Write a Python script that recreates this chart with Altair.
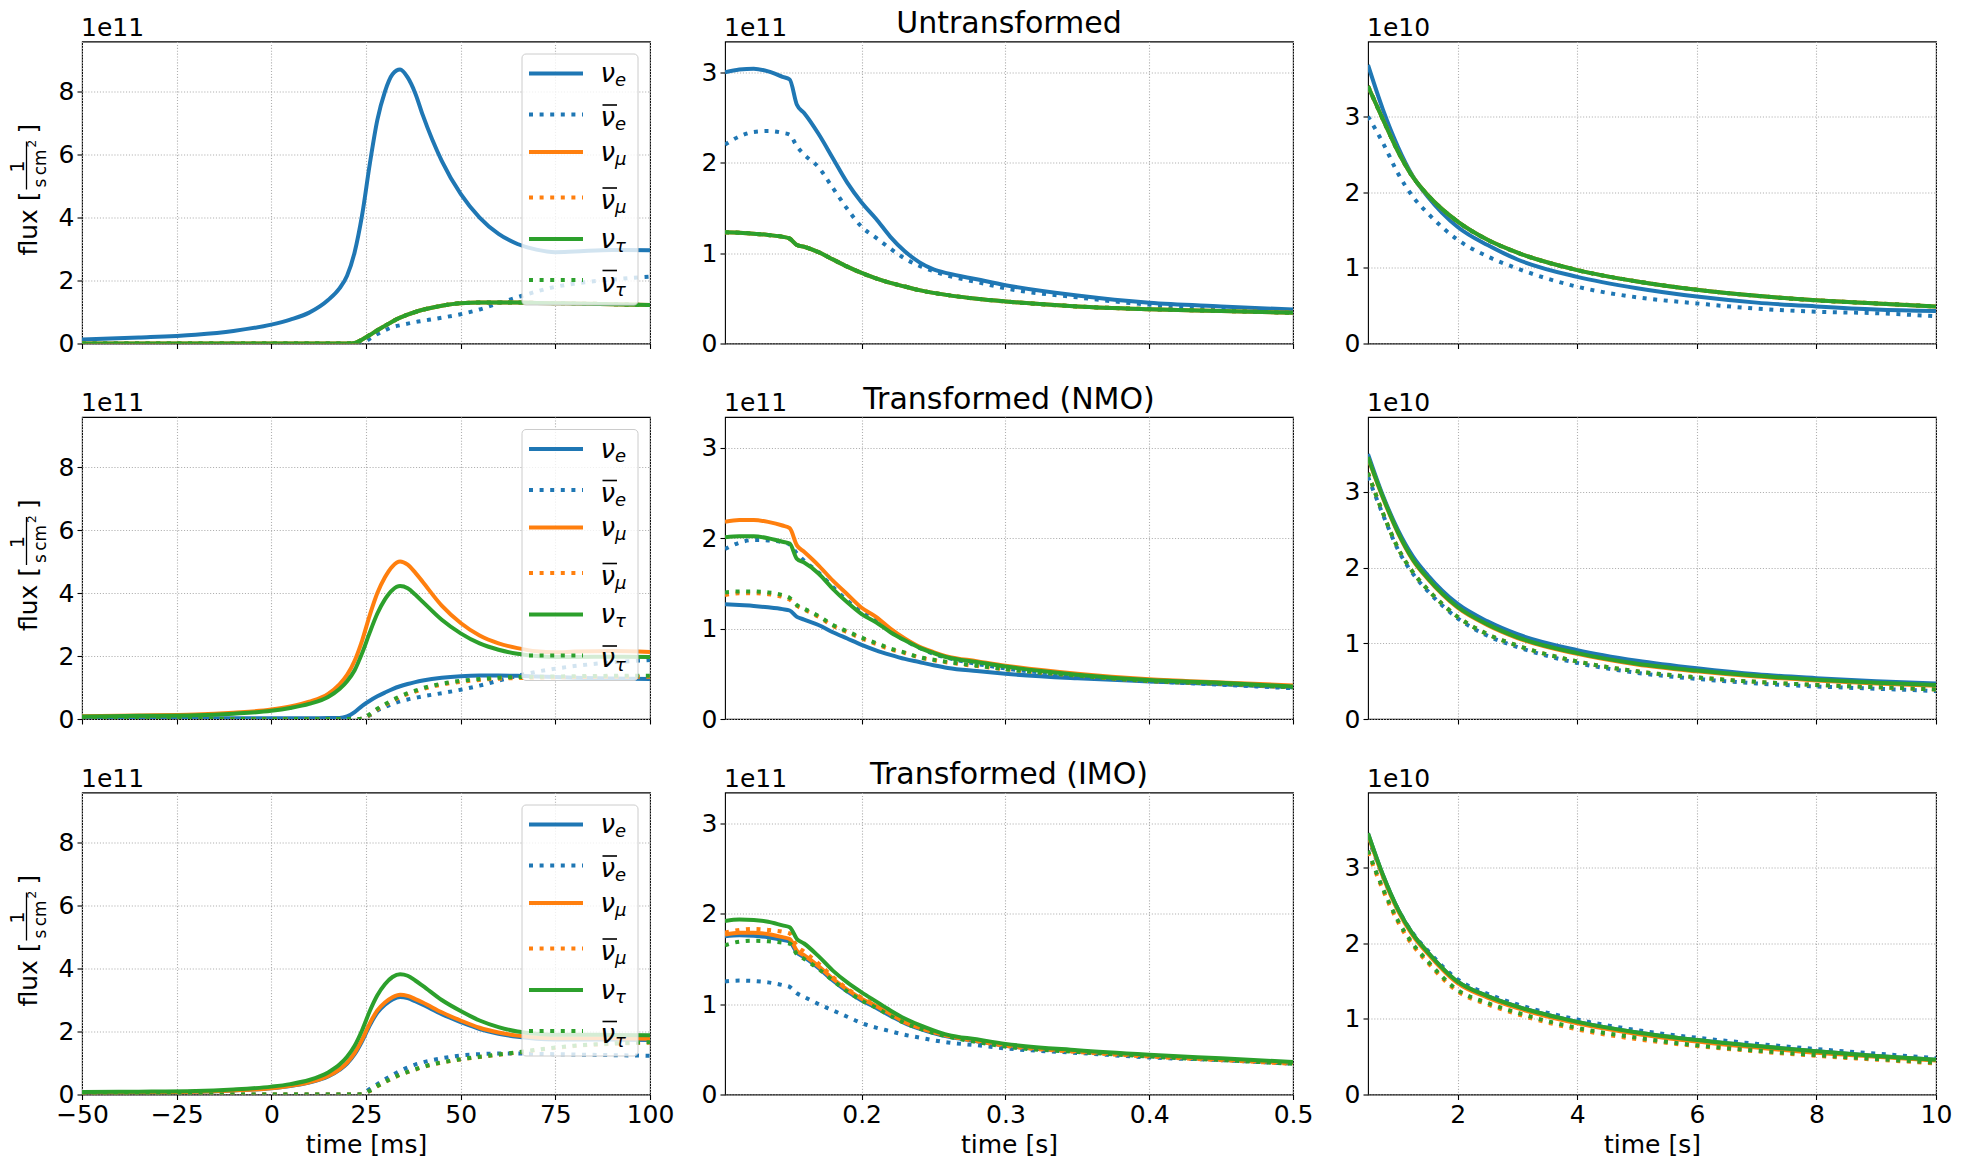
import altair as alt
import pandas as pd

FONT = "DejaVu Sans"
BLUE, ORANGE, GREEN = "#1f77b4", "#ff7f0e", "#2ca02c"

# ---- time grids -------------------------------------------------------------
T_MS = [-50, -35, -20, -10, 0, 5, 10, 15, 18, 20, 22, 24, 26, 28, 30, 32, 34, 36,
        38, 40, 45, 50, 55, 60, 65, 70, 75, 80, 90, 100]
T_MID = [0.105, 0.115, 0.125, 0.135, 0.145, 0.15, 0.155, 0.16, 0.17, 0.18, 0.19,
         0.2, 0.21, 0.22, 0.23, 0.24, 0.25, 0.26, 0.28, 0.3, 0.35, 0.4, 0.45, 0.5]
T_LATE = [0.5, 0.75, 1.0, 1.25, 1.5, 2.0, 2.5, 3.0, 4.0, 5.0, 6.0, 7.0, 8.0, 9.0, 10.0]

# ---- untransformed flux (early in 1e11, mid in 1e11, late in 1e10) ----------
U1_NUE = [0.13, 0.19, 0.28, 0.40, 0.60, 0.76, 0.98, 1.38, 1.75, 2.15, 2.90, 4.10, 5.70, 7.10, 8.00,
          8.55, 8.70, 8.45, 7.95, 7.25, 5.80, 4.75, 4.00, 3.48, 3.16, 2.98, 2.90, 2.92, 2.97, 2.96]
U1_NUEBAR = [0, 0, 0, 0, 0, 0, 0, 0, 0, 0, 0, 0.01, 0.15, 0.30, 0.42,
             0.52, 0.58, 0.63, 0.68, 0.72, 0.82, 0.93, 1.08, 1.28, 1.47, 1.65, 1.80, 1.90, 2.03, 2.12]
U1_NUX = [0, 0, 0, 0, 0, 0, 0, 0, 0, 0, 0.02, 0.13, 0.27, 0.42, 0.56,
          0.70, 0.82, 0.92, 1.00, 1.07, 1.20, 1.28, 1.30, 1.30, 1.30, 1.29, 1.28, 1.27, 1.25, 1.22]

U2_NUE = [3.00, 3.03, 3.04, 3.01, 2.95, 2.92, 2.64, 2.55, 2.32, 2.05, 1.78, 1.56,
          1.38, 1.18, 1.02, 0.90, 0.82, 0.775, 0.71, 0.645, 0.53, 0.45, 0.41, 0.375]
U2_NUEBAR = [2.20, 2.29, 2.34, 2.35, 2.33, 2.31, 2.18, 2.09, 1.95, 1.72, 1.49, 1.29,
             1.17, 1.05, 0.94, 0.86, 0.80, 0.75, 0.68, 0.61, 0.51, 0.43, 0.39, 0.36]
U2_NUX = [1.23, 1.225, 1.215, 1.20, 1.18, 1.16, 1.09, 1.07, 1.01, 0.93, 0.85, 0.78,
          0.72, 0.67, 0.63, 0.59, 0.56, 0.535, 0.495, 0.465, 0.41, 0.38, 0.36, 0.34]

U3_NUE = [3.68, 3.09, 2.60, 2.21, 1.94, 1.54, 1.30, 1.11, 0.88, 0.73, 0.62, 0.54, 0.49, 0.45, 0.43]
U3_NUEBAR = [3.00, 2.65, 2.25, 1.94, 1.72, 1.37, 1.15, 0.99, 0.75, 0.61, 0.53, 0.46, 0.42, 0.40, 0.36]
U3_NUX = [3.40, 2.96, 2.54, 2.20, 1.96, 1.61, 1.37, 1.20, 0.97, 0.82, 0.71, 0.63, 0.57, 0.53, 0.49]

# ---- transformed, normal mass ordering --------------------------------------
N1_NUE = [0.02, 0.02, 0.02, 0.02, 0.02, 0.02, 0.02, 0.03, 0.03, 0.08, 0.22, 0.42, 0.58, 0.72, 0.84,
          0.95, 1.04, 1.11, 1.17, 1.22, 1.31, 1.36, 1.38, 1.38, 1.37, 1.35, 1.33, 1.31, 1.29, 1.27]
N1_NUEBAR = [0, 0, 0, 0, 0, 0, 0, 0, 0, 0, 0, 0.01, 0.12, 0.27, 0.38,
             0.48, 0.56, 0.62, 0.67, 0.72, 0.82, 0.93, 1.06, 1.22, 1.37, 1.50, 1.60, 1.68, 1.80, 1.87]
N1_NUMU = [0.09, 0.11, 0.14, 0.20, 0.30, 0.40, 0.55, 0.80, 1.10, 1.40, 1.85, 2.50, 3.30, 4.00, 4.50,
           4.85, 5.00, 4.90, 4.65, 4.35, 3.60, 3.05, 2.65, 2.40, 2.25, 2.15, 2.12, 2.14, 2.16, 2.13]
N1_NUMUBAR = [0, 0, 0, 0, 0, 0, 0, 0, 0, 0, 0, 0.01, 0.13, 0.30, 0.44,
              0.57, 0.69, 0.79, 0.87, 0.95, 1.09, 1.18, 1.24, 1.28, 1.30, 1.31, 1.32, 1.33, 1.34, 1.34]
N1_NUTAU = [0.08, 0.10, 0.12, 0.17, 0.26, 0.35, 0.48, 0.70, 0.95, 1.20, 1.55, 2.10, 2.75, 3.35, 3.80,
            4.10, 4.22, 4.15, 3.95, 3.72, 3.15, 2.72, 2.40, 2.20, 2.07, 2.00, 1.97, 1.97, 1.98, 1.97]
N1_NUTAUBAR = [0, 0, 0, 0, 0, 0, 0, 0, 0, 0, 0, 0.01, 0.15, 0.33, 0.47,
               0.60, 0.72, 0.82, 0.90, 0.98, 1.12, 1.21, 1.27, 1.31, 1.33, 1.34, 1.35, 1.36, 1.37, 1.37]

N2_NUE = [1.27, 1.26, 1.25, 1.235, 1.215, 1.20, 1.13, 1.10, 1.04, 0.96, 0.89, 0.82,
          0.76, 0.71, 0.665, 0.63, 0.595, 0.565, 0.53, 0.50, 0.45, 0.415, 0.385, 0.35]
N2_NUEBAR = [1.88, 1.95, 1.98, 1.975, 1.955, 1.93, 1.83, 1.75, 1.62, 1.46, 1.31, 1.18,
             1.09, 0.97, 0.87, 0.79, 0.72, 0.675, 0.61, 0.56, 0.48, 0.42, 0.38, 0.34]
N2_NUMU = [2.18, 2.20, 2.20, 2.18, 2.14, 2.11, 1.92, 1.85, 1.70, 1.53, 1.38, 1.23,
           1.13, 1.00, 0.89, 0.80, 0.74, 0.69, 0.64, 0.59, 0.50, 0.44, 0.405, 0.37]
N2_NUMUBAR = [1.37, 1.39, 1.39, 1.38, 1.35, 1.32, 1.25, 1.21, 1.13, 1.03, 0.96, 0.89,
              0.83, 0.77, 0.73, 0.68, 0.65, 0.625, 0.585, 0.55, 0.48, 0.42, 0.39, 0.35]
N2_NUTAU = [2.01, 2.02, 2.02, 2.00, 1.96, 1.94, 1.77, 1.73, 1.61, 1.44, 1.29, 1.16,
            1.07, 0.96, 0.87, 0.79, 0.73, 0.68, 0.63, 0.58, 0.49, 0.43, 0.40, 0.36]
N2_NUTAUBAR = [1.40, 1.41, 1.41, 1.40, 1.37, 1.34, 1.26, 1.22, 1.14, 1.04, 0.97, 0.90,
               0.84, 0.78, 0.735, 0.685, 0.655, 0.63, 0.59, 0.55, 0.48, 0.42, 0.39, 0.35]

N3_NUE = [3.50, 2.95, 2.50, 2.15, 1.90, 1.52, 1.29, 1.12, 0.91, 0.77, 0.67, 0.59, 0.54, 0.50, 0.47]
N3_NUEBAR = [3.20, 2.70, 2.24, 1.92, 1.69, 1.33, 1.10, 0.95, 0.74, 0.61, 0.53, 0.47, 0.43, 0.40, 0.37]
N3_NUMU = [3.45, 2.92, 2.46, 2.10, 1.85, 1.47, 1.24, 1.07, 0.86, 0.72, 0.63, 0.56, 0.51, 0.47, 0.44]
N3_NUMUBAR = [3.25, 2.72, 2.26, 1.94, 1.71, 1.35, 1.12, 0.97, 0.76, 0.63, 0.55, 0.49, 0.45, 0.42, 0.39]
N3_NUTAU = [3.46, 2.93, 2.47, 2.11, 1.86, 1.48, 1.25, 1.08, 0.87, 0.73, 0.64, 0.57, 0.52, 0.48, 0.45]
N3_NUTAUBAR = [3.25, 2.72, 2.26, 1.94, 1.71, 1.35, 1.12, 0.97, 0.76, 0.63, 0.55, 0.49, 0.45, 0.42, 0.39]

# ---- transformed, inverted mass ordering ------------------------------------
I1_NUE = [0.06, 0.07, 0.09, 0.13, 0.20, 0.27, 0.38, 0.57, 0.78, 0.98, 1.28, 1.70, 2.20, 2.60, 2.85,
          3.02, 3.10, 3.06, 2.96, 2.85, 2.55, 2.30, 2.08, 1.93, 1.83, 1.77, 1.75, 1.75, 1.75, 1.73]
I1_NUEBAR = [0, 0, 0, 0, 0, 0, 0, 0, 0, 0, 0, 0.02, 0.18, 0.33, 0.48,
             0.62, 0.75, 0.86, 0.95, 1.02, 1.15, 1.24, 1.28, 1.30, 1.30, 1.29, 1.28, 1.27, 1.25, 1.23]
I1_NUMU = [0.06, 0.07, 0.09, 0.13, 0.20, 0.28, 0.39, 0.59, 0.80, 1.01, 1.32, 1.75, 2.26, 2.67, 2.92,
           3.09, 3.17, 3.13, 3.03, 2.92, 2.61, 2.35, 2.12, 1.97, 1.87, 1.81, 1.79, 1.79, 1.79, 1.77]
I1_NUMUBAR = [0, 0, 0, 0, 0, 0, 0, 0, 0, 0, 0, 0.01, 0.11, 0.26, 0.39,
              0.51, 0.62, 0.71, 0.79, 0.87, 1.01, 1.11, 1.19, 1.26, 1.33, 1.41, 1.48, 1.54, 1.61, 1.65]
I1_NUTAU = [0.08, 0.09, 0.11, 0.16, 0.25, 0.33, 0.46, 0.70, 0.95, 1.20, 1.55, 2.05, 2.65, 3.15, 3.50,
            3.73, 3.82, 3.77, 3.62, 3.45, 3.00, 2.65, 2.35, 2.14, 2.00, 1.93, 1.90, 1.90, 1.89, 1.88]
I1_NUTAUBAR = [0, 0, 0, 0, 0, 0, 0, 0, 0, 0, 0, 0.01, 0.12, 0.27, 0.40,
               0.52, 0.63, 0.72, 0.80, 0.88, 1.02, 1.12, 1.20, 1.27, 1.34, 1.42, 1.49, 1.55, 1.62, 1.66]

I2_NUE = [1.75, 1.76, 1.755, 1.74, 1.71, 1.69, 1.57, 1.52, 1.40, 1.26, 1.14, 1.04,
          0.96, 0.87, 0.79, 0.73, 0.68, 0.64, 0.59, 0.54, 0.475, 0.425, 0.385, 0.35]
I2_NUEBAR = [1.25, 1.26, 1.255, 1.24, 1.21, 1.19, 1.12, 1.08, 1.00, 0.93, 0.86, 0.79,
             0.74, 0.70, 0.66, 0.63, 0.60, 0.575, 0.545, 0.51, 0.46, 0.41, 0.38, 0.34]
I2_NUMU = [1.77, 1.79, 1.79, 1.775, 1.74, 1.72, 1.59, 1.54, 1.42, 1.28, 1.16, 1.06,
           0.98, 0.89, 0.80, 0.74, 0.69, 0.65, 0.60, 0.55, 0.48, 0.43, 0.39, 0.35]
I2_NUMUBAR = [1.79, 1.82, 1.83, 1.82, 1.80, 1.78, 1.64, 1.58, 1.45, 1.30, 1.17, 1.07,
              0.99, 0.90, 0.81, 0.74, 0.69, 0.65, 0.59, 0.54, 0.47, 0.42, 0.38, 0.34]
I2_NUTAU = [1.92, 1.935, 1.93, 1.91, 1.87, 1.85, 1.72, 1.67, 1.53, 1.37, 1.24, 1.13,
            1.03, 0.93, 0.84, 0.77, 0.71, 0.66, 0.61, 0.56, 0.49, 0.44, 0.40, 0.36]
I2_NUTAUBAR = [1.65, 1.69, 1.70, 1.695, 1.68, 1.67, 1.55, 1.50, 1.39, 1.26, 1.14, 1.04,
               0.96, 0.87, 0.79, 0.73, 0.68, 0.64, 0.58, 0.53, 0.47, 0.42, 0.38, 0.34]

I3_NUE = [3.45, 2.90, 2.45, 2.12, 1.88, 1.49, 1.30, 1.16, 0.96, 0.82, 0.72, 0.64, 0.57, 0.51, 0.46]
I3_NUEBAR = [3.40, 2.88, 2.45, 2.13, 1.90, 1.52, 1.33, 1.19, 0.99, 0.85, 0.75, 0.67, 0.60, 0.54, 0.48]
I3_NUMU = [3.43, 2.88, 2.43, 2.10, 1.86, 1.47, 1.28, 1.14, 0.94, 0.80, 0.70, 0.62, 0.55, 0.50, 0.45]
I3_NUMUBAR = [3.20, 2.70, 2.28, 1.97, 1.74, 1.36, 1.19, 1.06, 0.86, 0.73, 0.64, 0.57, 0.51, 0.46, 0.41]
I3_NUTAU = [3.45, 2.90, 2.45, 2.12, 1.88, 1.49, 1.30, 1.16, 0.96, 0.82, 0.72, 0.64, 0.57, 0.51, 0.46]
I3_NUTAUBAR = [3.22, 2.72, 2.30, 1.99, 1.76, 1.38, 1.21, 1.08, 0.88, 0.75, 0.65, 0.58, 0.52, 0.47, 0.42]

# ---- panel settings ---------------------------------------------------------
ROW_TITLES = ["Untransformed", "Transformed (NMO)", "Transformed (IMO)"]
TIMES = [T_MS, T_MID, T_LATE]
X_DOMAINS = [[-50, 100], [0.105, 0.5], [0.5, 10]]
X_TICKS = [[-50, -25, 0, 25, 50, 75, 100], [0.2, 0.3, 0.4, 0.5], [2, 4, 6, 8, 10]]
X_FORMATS = ["d", ".1f", "d"]
X_TITLES = ["time [ms]", "time [s]", "time [s]"]
Y_DOMAINS = [[0, 9.59], [0, 3.34], [0, 3.99]]
Y_TICKS = [[0, 2, 4, 6, 8], [0, 1, 2, 3], [0, 1, 2, 3]]
OFFSETS = ["1e11", "1e11", "1e10"]

FLUX = [
    [[U1_NUE, U1_NUEBAR, U1_NUX, U1_NUX, U1_NUX, U1_NUX],
     [U2_NUE, U2_NUEBAR, U2_NUX, U2_NUX, U2_NUX, U2_NUX],
     [U3_NUE, U3_NUEBAR, U3_NUX, U3_NUX, U3_NUX, U3_NUX]],
    [[N1_NUE, N1_NUEBAR, N1_NUMU, N1_NUMUBAR, N1_NUTAU, N1_NUTAUBAR],
     [N2_NUE, N2_NUEBAR, N2_NUMU, N2_NUMUBAR, N2_NUTAU, N2_NUTAUBAR],
     [N3_NUE, N3_NUEBAR, N3_NUMU, N3_NUMUBAR, N3_NUTAU, N3_NUTAUBAR]],
    [[I1_NUE, I1_NUEBAR, I1_NUMU, I1_NUMUBAR, I1_NUTAU, I1_NUTAUBAR],
     [I2_NUE, I2_NUEBAR, I2_NUMU, I2_NUMUBAR, I2_NUTAU, I2_NUTAUBAR],
     [I3_NUE, I3_NUEBAR, I3_NUMU, I3_NUMUBAR, I3_NUTAU, I3_NUTAUBAR]],
]

FLAVOURS = ["e", "e", "μ", "μ", "τ", "τ"]
COLORS = [BLUE, BLUE, ORANGE, ORANGE, GREEN, GREEN]
ANTI = [False, True, False, True, False, True]

W, H = 568, 302
LW = 4
DOT = [4, 6.6]

ONE = pd.DataFrame({"k": [0]})


def deco_text(text, x, y, size, align="left", angle=0, italic=False):
    kw = dict(text=text, font=FONT, fontSize=size, align=align,
              baseline="alphabetic", color="black")
    if angle:
        kw["angle"] = angle
    if italic:
        kw["fontStyle"] = "italic"
    return alt.Chart(ONE).mark_text(**kw).encode(x=alt.value(x), y=alt.value(y))


def deco_rule(x, x2, y, y2, color="black", width=1.0, dash=None):
    kw = dict(color=color, strokeWidth=width, strokeCap="butt")
    if dash:
        kw["strokeDash"] = dash
    return alt.Chart(ONE).mark_rule(**kw).encode(
        x=alt.value(x), x2=alt.value(x2), y=alt.value(y), y2=alt.value(y2))


def legend_layers():
    out = [alt.Chart(ONE).mark_rect(fill="white", fillOpacity=0.8, stroke="#cccccc",
                                    strokeWidth=1, cornerRadius=4).encode(
        x=alt.value(440), x2=alt.value(556), y=alt.value(12.5), y2=alt.value(263.5))]
    swatch_y = [32, 73, 110.5, 156, 197.5, 238.5]
    for k in range(6):
        s = swatch_y[k]
        base = s + (11.5 if ANTI[k] else 8.5)
        out.append(deco_rule(447, 501, s, s, COLORS[k], LW, DOT if ANTI[k] else None))
        out.append(deco_text("ν", 518.5, base, 26, italic=True))
        out.append(deco_text(FLAVOURS[k], 533, base + 4, 18, italic=True))
        if ANTI[k]:
            out.append(deco_rule(520.5, 535, base - 21, base - 21, "black", 1.6))
    return out


def ylabel_layers():
    # flux [ 1 / (s cm^2) ], written bottom-to-top beside the axis
    return [
        deco_text("flux [", -45, 150, 25, align="right", angle=270),
        deco_text("1", -58, 125, 19, align="center", angle=270),
        deco_rule(-55.5, -55.5, 100, 148, "black", 1.3),
        deco_text("s\u2009cm", -36, 146, 17, align="left", angle=270),
        deco_text("2", -46, 106, 12, align="left", angle=270),
        deco_text("]", -45, 92, 25, align="left", angle=270),
    ]


def panel(row, col):
    bottom = row == 2
    xs = alt.Scale(domain=X_DOMAINS[col], nice=False, zero=False)
    ys = alt.Scale(domain=Y_DOMAINS[col], nice=False, zero=False)
    xaxis = alt.Axis(values=X_TICKS[col], format=X_FORMATS[col], labels=bottom,
                     title=X_TITLES[col] if bottom else None)
    yaxis = alt.Axis(values=Y_TICKS[col], format="d", title=None)
    layers = []
    for k in range(6):
        df = pd.DataFrame({"t": TIMES[col], "flux": FLUX[row][col][k]})
        mk = dict(color=COLORS[k], strokeWidth=LW, interpolate="monotone",
                  clip=True, strokeCap="butt")
        if ANTI[k]:
            mk["strokeDash"] = DOT
        layers.append(alt.Chart(df).mark_line(**mk).encode(
            x=alt.X("t:Q", scale=xs, axis=xaxis),
            y=alt.Y("flux:Q", scale=ys, axis=yaxis)))
    layers.append(deco_text(OFFSETS[col], -1, -5.7, 25))
    if col == 1:
        layers.append(deco_text(ROW_TITLES[row], W / 2, -8.5, 30, align="center"))
    if col == 0:
        layers += legend_layers()
        layers += ylabel_layers()
    return alt.layer(*layers).properties(width=W, height=H)


panels = [panel(r, c) for r in range(3) for c in range(3)]

chart = alt.concat(
    *panels, columns=3, spacing={"row": 73.5, "column": 75}, bounds="flush"
).properties(
    padding={"left": 8, "top": 7.5, "right": 10, "bottom": 5},
    background="white",
).configure(
    font=FONT,
).configure_view(
    stroke="black", strokeWidth=1.1,
).configure_axis(
    labelFont=FONT, labelFontSize=25, labelColor="black",
    tickColor="black", tickSize=5, tickWidth=1.1, labelPadding=3,
    domain=False, grid=True, gridColor="#b0b0b0", gridDash=[1.1, 1.8],
    gridWidth=1.1, gridOpacity=1,
    titleFont=FONT, titleFontSize=25, titleFontWeight="normal", titleColor="black",
    titlePadding=5, labelFlush=False, labelOverlap=False,
)

chart.save("out.html", embed_options={"renderer": "svg", "actions": False})
